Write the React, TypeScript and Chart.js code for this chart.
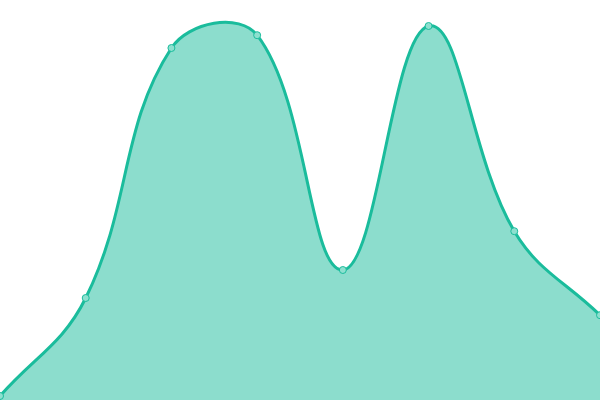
import React, { useEffect, useRef } from "react";
import { Chart, registerables } from "chart.js";

Chart.register(...registerables);

const labels = ["1", "2", "3", "4", "5", "6", "7", "8"];
const values = [1, 25.5, 88, 91.2, 32.5, 93.5, 42.2, 21.2];

const App: React.FC = () => {
  const chartRef = useRef<HTMLCanvasElement | null>(null);
  const chartInstance = useRef<Chart | null>(null);

  useEffect(() => {
    document.body.style.margin = "0";
    if (!chartRef.current) return;

    chartInstance.current = new Chart(chartRef.current, {
      type: "line",
      data: {
        labels,
        datasets: [
          {
            label: "Series",
            data: values,
            borderColor: "#1abc9c",
            backgroundColor: "rgba(26, 188, 156, 0.5)",
            borderWidth: 3,
            pointRadius: 3.5,
            pointBorderWidth: 1,
            pointBackgroundColor: "#8de0cf",
            pointBorderColor: "#1abc9c",
            tension: 0.4,
            fill: true,
          },
        ],
      },
      options: {
        animation: false,
        responsive: true,
        maintainAspectRatio: false,
        layout: { padding: 0, autoPadding: false },
        plugins: {
          legend: { display: false },
          tooltip: { enabled: false },
        },
        scales: {
          x: { display: false, offset: false },
          y: { display: false, min: 0, max: 100 },
        },
      },
    });

    return () => {
      chartInstance.current?.destroy();
      chartInstance.current = null;
    };
  }, []);

  return (
    <div style={{ width: 600, height: 400, position: "relative" }}>
      <canvas ref={chartRef} />
    </div>
  );
};

export default App;
